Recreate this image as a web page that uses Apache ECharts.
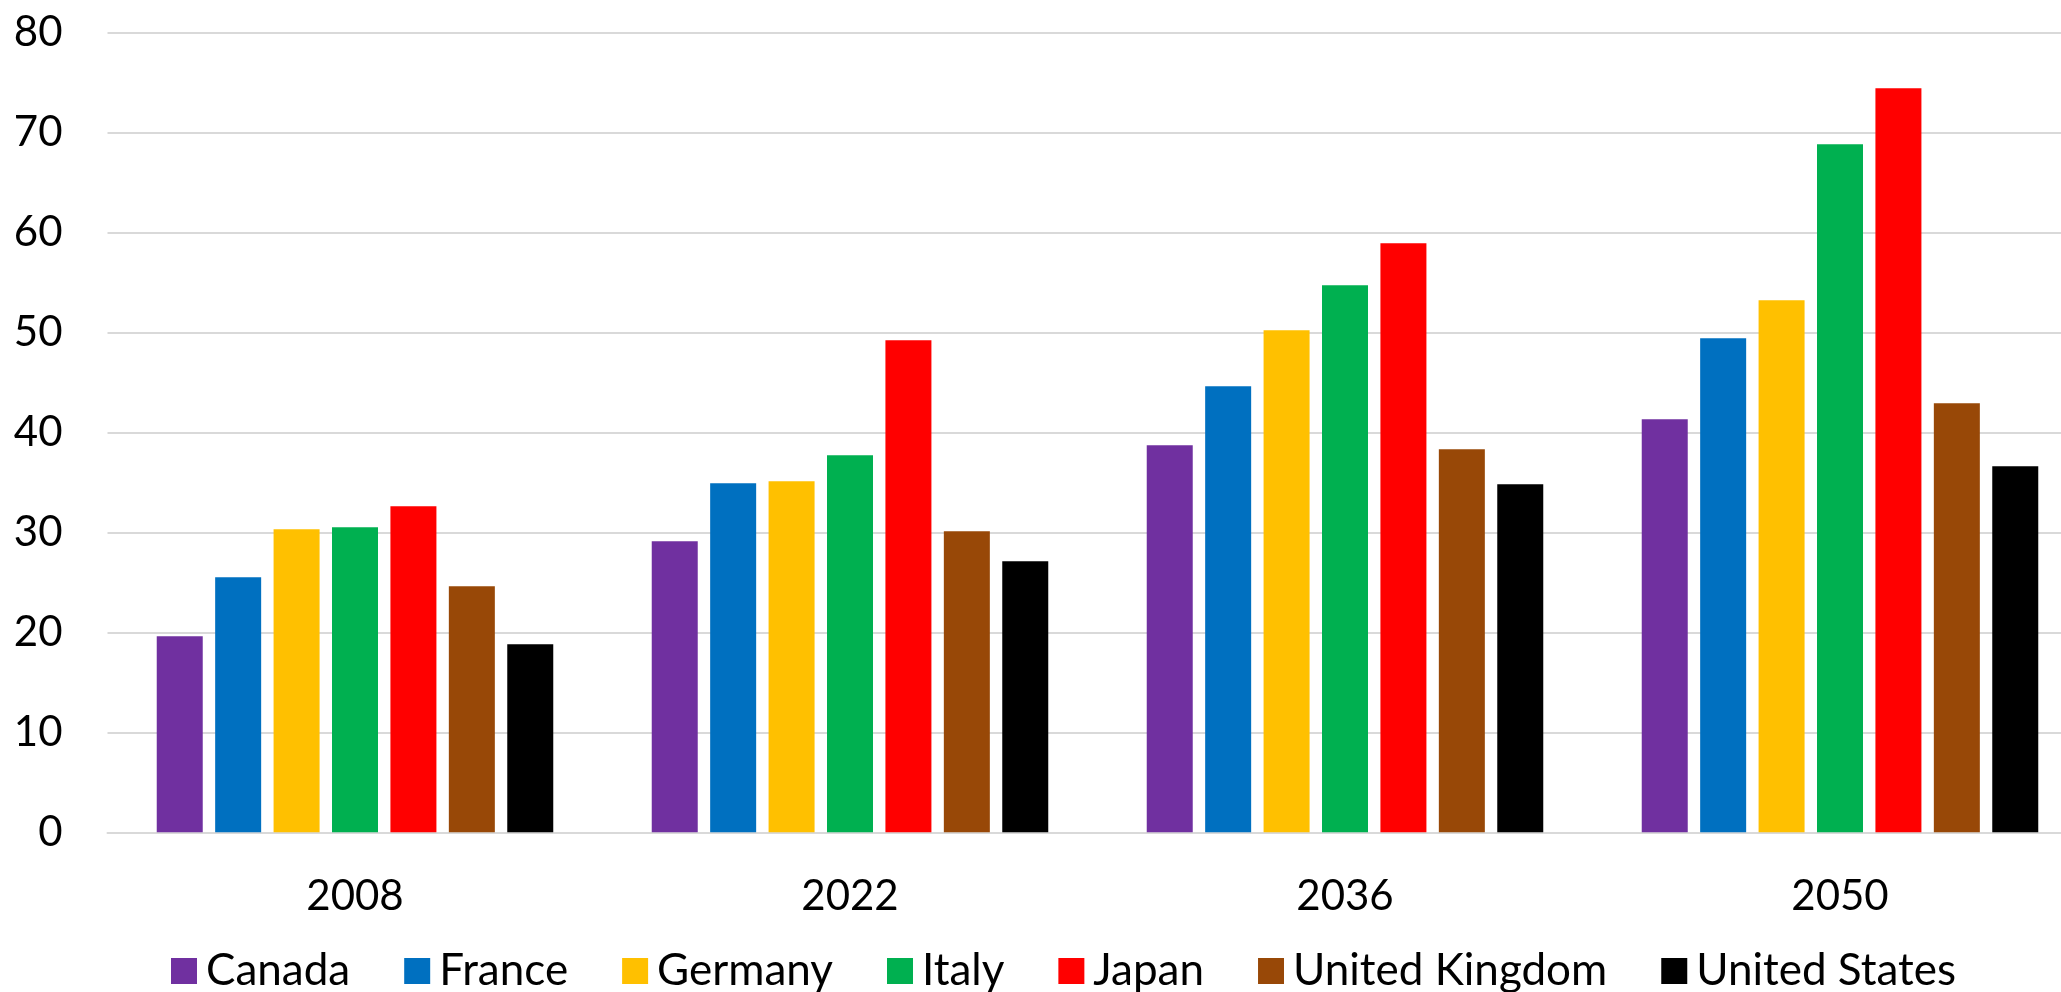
<!DOCTYPE html>
<html>
<head>
<meta charset="utf-8">
<title>Share of population by country</title>
<script src="https://cdn.jsdelivr.net/npm/echarts@6/dist/echarts.min.js"></script>
<style>
  html, body { margin: 0; padding: 0; background: #ffffff; }
  #chart { width: 2061px; height: 992px; }
</style>
</head>
<body>
<div id="chart"></div>
<script>
// Year categories on the x axis
const years = ['2008', '2022', '2036', '2050'];

// One series per country, values per year
const countries = ['Canada', 'France', 'Germany', 'Italy', 'Japan', 'United Kingdom', 'United States'];
const canada        = [19.6, 29.1, 38.7, 41.3];
const france        = [25.5, 34.9, 44.6, 49.4];
const germany       = [30.3, 35.1, 50.2, 53.2];
const italy         = [30.5, 37.7, 54.7, 68.8];
const japan         = [32.6, 49.2, 58.9, 74.4];
const unitedKingdom = [24.6, 30.1, 38.3, 42.9];
const unitedStates  = [18.8, 27.1, 34.8, 36.6];

const yTicks = { min: 0, max: 80, interval: 10 };

const colors = ['#7030A0', '#0070C0', '#FFC000', '#00B050', '#FF0000', '#984807', '#000000'];
const values = [canada, france, germany, italy, japan, unitedKingdom, unitedStates];

const FONT = 'Lato, "Noto Sans", sans-serif';

const chart = echarts.init(document.getElementById('chart'), null, { renderer: 'canvas' });

chart.setOption({
  backgroundColor: '#ffffff',
  animation: false,
  color: colors,
  grid: {
    left: 107.5,
    top: 32.3,
    width: 1980,
    height: 800,
    containLabel: false,
    outerBoundsMode: 'none'
  },
  legend: {
    data: countries,
    left: 171,
    top: 949,
    padding: 0,
    itemWidth: 26,
    itemHeight: 26,
    itemGap: 54,
    icon: 'rect',
    textStyle: {
      fontFamily: FONT,
      fontSize: 44,
      color: '#000000',
      padding: [0, 0, 0, 4]
    }
  },
  xAxis: {
    type: 'category',
    data: years,
    axisTick: { show: false },
    axisLine: { show: true, lineStyle: { color: '#d9d9d9', width: 2 } },
    axisLabel: {
      fontFamily: FONT,
      fontSize: 42,
      color: '#000000',
      margin: 43
    }
  },
  yAxis: {
    type: 'value',
    min: yTicks.min,
    max: yTicks.max,
    interval: yTicks.interval,
    axisLine: { show: false },
    axisTick: { show: false },
    splitLine: { show: true, lineStyle: { color: '#d9d9d9', width: 2 } },
    axisLabel: {
      fontFamily: FONT,
      fontSize: 42,
      color: '#000000',
      margin: 45
    }
  },
  series: countries.map((name, i) => ({
    name: name,
    type: 'bar',
    data: values[i],
    barWidth: 46,
    barGap: '27%',
    itemStyle: { color: colors[i] }
  }))
});
</script>
</body>
</html>
